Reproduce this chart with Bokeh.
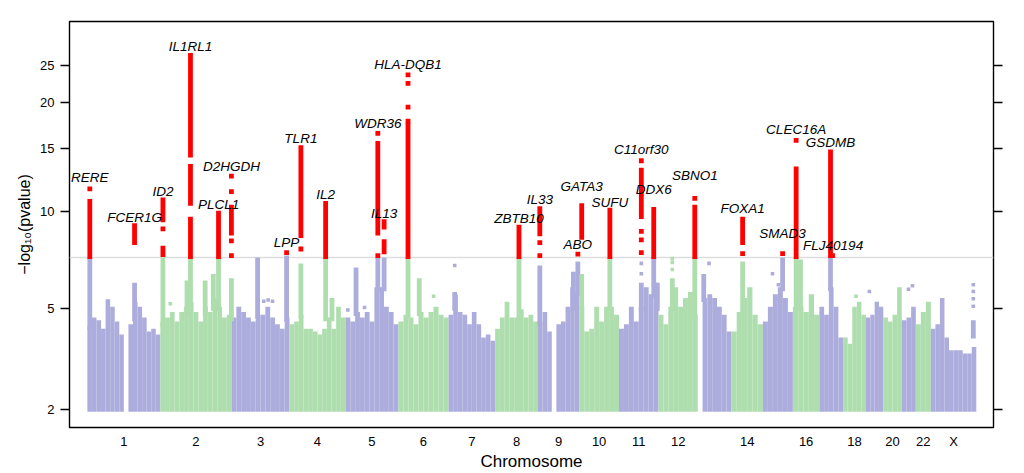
import numpy as np
from bokeh.plotting import figure
from bokeh.models import (FixedTicker, LinearAxis, Span, CustomJSTickFormatter,
                          Range1d)
from bokeh.embed import file_html
from bokeh.resources import INLINE
from bokeh.core.properties import value

# ---------------- data ----------------
chrom_names = ["1", "2", "3", "4", "5", "6", "7", "8", "9", "10", "11", "12",
               "13", "14", "15", "16", "17", "18", "19", "20", "21", "22", "X"]
chrom_len_mb = [249.3, 243.2, 198.0, 191.2, 180.9, 171.1, 159.1, 146.4, 141.2,
                135.5, 135.0, 133.9, 115.2, 107.3, 102.5, 90.4, 81.2, 78.1,
                59.1, 63.0, 48.1, 51.3, 155.3]
x_labels_shown = ["1", "2", "3", "4", "5", "6", "7", "8", "9", "10", "11", "12",
                  "14", "16", "18", "20", "22", "X"]

y_ticks = [2, 5, 10, 15, 20, 25]
threshold = 7.3
y_min, y_max = 1.625, 32.4
x_min, x_max = -61, 3095

# upper edge of the dense cloud of -log10(p), evenly spaced bins along each chromosome (0 = no SNPs)
bulk_top = [
    [4.3, 4.6, 4.5, 4.2, 5.3, 5.0, 4.45, 4.0, 0, 4.35, 5.2, 5.0, 4.6, 4.1, 4.2, 4.0],
    [4.45, 4.6, 4.8, 4.45, 4.8, 5.0, 5.2, 4.8, 4.45, 5.0, 4.8, 5.35, 5.0, 4.6, 4.7],
    [4.6, 5.0, 4.8, 4.6, 4.45, 4.7, 4.7, 5.0, 4.6, 4.35, 4.2, 4.6],
    [4.35, 4.45, 4.7, 4.2, 4.2, 4.1, 4.0, 4.2, 4.6, 4.2, 5.0, 4.6],
    [4.6, 4.45, 4.8, 4.6, 4.8, 4.45, 5.8, 5.8, 5.0, 4.8, 4.35],
    [4.45, 4.7, 4.6, 4.35, 4.8, 4.6, 4.8, 5.0, 4.7, 4.6],
    [4.7, 5.5, 4.8, 4.7, 4.35, 4.8, 4.35, 3.9, 4.0, 3.8],
    [4.2, 4.6, 5.2, 4.6, 4.6, 4.9, 4.6, 4.7, 4.45],
    [4.45, 4.8, 4.1, 0, 4.35, 4.45, 5.0, 5.8, 5.6],
    [5.0, 4.1, 4.2, 5.0, 4.45, 5.0, 5.0, 4.7],
    [4.2, 4.35, 5.0, 4.45, 5.0, 5.8, 5.5, 6.0],
    [4.7, 4.35, 5.0, 5.8, 5.0, 5.35, 5.6, 4.7],
    [0, 5.35, 5.5, 5.35, 5.0, 4.7, 4.1],
    [4.1, 4.8, 5.35, 5.8, 4.7, 4.35],
    [4.45, 5.0, 5.5, 5.8, 5.35, 4.8],
    [5.0, 5.0, 4.8, 5.5, 4.7],
    [5.0, 4.7, 5.8, 5.0, 3.9],
    [3.9, 3.7, 5.0, 5.2, 4.7],
    [4.6, 4.7, 5.2, 5.0],
    [4.6, 4.45, 4.7, 5.8],
    [4.5, 4.6, 5.0],
    [4.35, 4.8, 5.2],
    [4.2, 4.35, 5.35, 3.9, 3.5, 3.5, 3.5, 3.4, 3.4, 3.6],
]

# columns of non-significant SNPs rising above the cloud
col_chr = ["1", "1", "2", "2", "2", "2", "2", "2", "2", "3", "3", "4", "4", "4",
           "5", "5", "5", "6", "6", "7", "8", "9", "9", "9", "10", "10", "11",
           "11", "11", "12", "12", "13", "14", "15", "16", "16", "17", "X"]
col_pos = [8.4, 161.2, 8.8, 91, 102.9, 153, 181, 198.7, 242.7, 89, 188.0, 38.8,
           123.4, 145, 36, 110.4, 131.9, 32.6, 71, 21, 81.4, 6.2, 121, 136.1,
           8.1, 104.3, 76.2, 118.6, 131, 47, 123.8, 20.5, 38.1, 67.4, 11.1, 26,
           38.1, 145]
col_lo = [4.3, 4.6, 4.4, 4.8, 5.0, 4.8, 5.0, 5.0, 4.6, 4.7, 4.6, 4.7, 4.6, 4.6,
          4.8, 5.8, 5.8, 4.7, 4.8, 5.0, 4.6, 4.45, 5.0, 5.6, 5.0, 5.0, 5.0, 5.5,
          5.0, 5.0, 4.7, 5.35, 4.8, 5.8, 5.0, 5.0, 5.8, 4.0]
col_hi = [7.2, 6.0, 7.2, 6.1, 7.2, 6.1, 6.4, 7.2, 6.2, 7.2, 7.3, 6.9, 7.2, 5.35,
          6.7, 7.2, 7.2, 7.2, 6.2, 5.6, 7.2, 6.8, 6.5, 7.0, 6.4, 7.2, 6.0, 7.2,
          6.0, 6.2, 7.2, 6.4, 7.0, 7.2, 7.2, 7.1, 7.2, 4.5]

# isolated non-significant SNPs
dot_chr = ["2", "3", "3", "3", "5", "5", "6", "7", "11", "11", "12", "12", "12",
           "13", "15", "15", "18", "19", "21", "21", "X", "X", "X", "X"]
dot_pos = [34, 110, 125, 140, 8, 65, 120, 21, 76.2, 76.2, 47, 47, 47, 38.6,
           32.8, 53, 44, 11.5, 23, 36.7, 145, 145, 145, 145]
dot_val = [5.2, 5.3, 5.35, 5.3, 4.95, 5.05, 5.5, 6.9, 6.5, 7.0, 6.7, 7.05, 7.25,
           7.0, 6.5, 6.0, 5.5, 5.7, 5.8, 5.95, 6.0, 5.7, 5.4, 5.1]

# genome-wide significant SNPs: runs and single points
red_seg_chr = ["1", "1", "2", "2", "2", "2", "2", "2", "2", "4", "4", "5", "5",
               "5", "6", "8", "9", "9", "10", "10", "11", "11", "11", "12",
               "14", "16", "17"]
red_seg_pos = [8.4, 161.2, 8.8, 8.8, 102.9, 102.9, 102.9, 198.7, 242.7, 38.8,
               123.4, 110.4, 131.9, 131.9, 32.6, 81.4, 6.2, 6.2, 8.1, 104.3,
               76.2, 76.2, 118.6, 123.8, 38.1, 11.1, 38.1]
red_seg_lo = [7.35, 8.1, 9.45, 7.45, 14.4, 10.56, 7.35, 7.35, 8.65, 8.5, 7.35,
              8.64, 9.0, 7.6, 7.35, 7.35, 9.6, 8.6, 8.4, 7.35, 11.27, 9.66,
              7.35, 7.35, 8.1, 7.35, 7.4]
red_seg_hi = [10.7, 9.1, 10.8, 7.8, 26.5, 13.4, 9.5, 9.9, 10.3, 15.1, 10.56,
              15.5, 9.35, 8.15, 17.4, 9.0, 10.2, 9.3, 10.4, 10.1, 13.1, 11.0,
              10.15, 10.3, 9.5, 13.2, 14.7]

red_dot_chr = ["1", "2", "2", "2", "2", "2", "3", "4", "5", "5", "6", "6", "6",
               "6", "9", "9", "9", "11", "11", "11", "11", "12", "14", "15",
               "16", "17"]
red_dot_pos = [8.4, 8.8, 242.7, 242.7, 242.7, 242.7, 188.0, 38.8, 110.4, 110.4,
               32.6, 32.6, 32.6, 32.6, 6.2, 6.2, 136.1, 76.2, 76.2, 76.2, 76.2,
               123.8, 38.1, 67.4, 11.1, 45.0]
red_dot_val = [11.6, 8.9, 12.6, 11.4, 8.2, 7.4, 7.55, 7.75, 16.5, 7.4, 23.6,
               22.4, 19.4, 17.8, 8.1, 7.4, 7.48, 13.9, 8.75, 8.25, 7.55, 10.9,
               7.5, 7.5, 15.8, 7.4]

gene_names = ["RERE", "FCER1G", "ID2", "IL1RL1", "PLCL1", "D2HGDH", "LPP",
              "TLR1", "IL2", "WDR36", "IL13", "HLA-DQB1", "ZBTB10", "IL33",
              "ABO", "GATA3", "SUFU", "C11orf30", "DDX6", "SBNO1", "FOXA1",
              "SMAD3", "CLEC16A", "GSDMB", "FLJ40194"]
gene_chr = ["1", "1", "2", "2", "2", "2", "3", "4", "4", "5", "5", "6", "8", "9",
            "9", "10", "10", "11", "11", "12", "14", "15", "16", "17", "17"]
gene_pos = [8.4, 161.2, 8.8, 102.9, 198.7, 242.7, 188.0, 38.8, 123.4, 110.4,
            131.9, 32.6, 81.4, 6.2, 136.1, 8.1, 104.3, 76.2, 118.6, 123.8, 38.1,
            67.4, 11.1, 38.1, 47.0]
gene_label_y = [12.45, 9.64, 11.39, 28.0, 10.5, 13.44, 8.12, 16.0, 11.2, 17.55,
                9.9, 25.15, 9.56, 10.84, 8.02, 11.82, 10.65, 14.96, 11.57,
                12.63, 10.19, 8.64, 16.92, 15.56, 7.93]

# ---------------- styling ----------------
PURPLE = "#ADADDD"
GREEN = "#AEDDAE"
RED = "#FF0000"
FONT = "Liberation Sans"
W, H = 1024, 473
BL, BR, BT, BB = 69, 31, 21, 44
FRAME_W, FRAME_H = W - BL - BR, H - BT - BB


def T(v):
    return np.log10(np.asarray(v, dtype=float) + 2.0)


starts = np.concatenate([[0.0], np.cumsum(chrom_len_mb)[:-1]])
idx = {c: i for i, c in enumerate(chrom_names)}


def gx(chrs, pos):
    return np.array([starts[idx[c]] + p for c, p in zip(chrs, pos)])


def ccol(c):
    return PURPLE if idx[c] % 2 == 0 else GREEN


px_per_mb = FRAME_W / (x_max - x_min)
px_per_t = FRAME_H / (T(y_max) - T(y_min))
pad = 2.0 / px_per_t          # half a point marker, in axis units
half_col = 2.4 / px_per_mb    # half width of a column of markers, in Mb

p = figure(width=W, height=H, output_backend="svg", toolbar_location=None,
           x_range=Range1d(x_min, x_max), y_range=Range1d(T(y_min), T(y_max)),
           min_border_left=BL, min_border_right=BR, min_border_top=BT,
           min_border_bottom=BB)
p.xgrid.grid_line_color = None
p.ygrid.grid_line_color = None
p.outline_line_color = "black"
p.outline_line_width = 1.4
p.background_fill_color = "white"
p.border_fill_color = "white"

# threshold line
p.add_layout(Span(location=float(T(threshold)), dimension="width",
                  line_color="#DDDDDD", line_width=1.5, level="underlay"))

# dense cloud
bx, bw, btop, bcol = [], [], [], []
for i, env in enumerate(bulk_top):
    n = len(env)
    w = chrom_len_mb[i] / n
    for j, v in enumerate(env):
        if v <= 0:
            continue
        bx.append(starts[i] + (j + 0.5) * w)
        bw.append(w)
        btop.append(float(T(v)) + pad)
        bcol.append(PURPLE if i % 2 == 0 else GREEN)
p.vbar(x=bx, width=bw, bottom=float(T(2)) - pad, top=btop,
       fill_color=bcol, line_color=None)

# columns below threshold
cx = gx(col_chr, col_pos)
p.quad(left=cx - half_col, right=cx + half_col,
       bottom=T(col_lo) - pad, top=T(col_hi) + pad,
       fill_color=[ccol(c) for c in col_chr], line_color=None)
p.scatter(gx(dot_chr, dot_pos), T(dot_val), marker="square", size=3.6,
          fill_color=[ccol(c) for c in dot_chr], line_color=None)

# significant points
rx = gx(red_seg_chr, red_seg_pos)
p.quad(left=rx - half_col, right=rx + half_col,
       bottom=T(red_seg_lo) - pad * 1.2, top=T(red_seg_hi) + pad * 1.2,
       fill_color=RED, line_color=None)
p.scatter(gx(red_dot_chr, red_dot_pos), T(red_dot_val), marker="square",
          size=4.8, fill_color=RED, line_color=None)

# gene labels
p.text(gx(gene_chr, gene_pos), T(gene_label_y), text=gene_names,
       text_font=value(FONT), text_font_style="italic", text_font_size="13.5px",
       text_align="center", text_baseline="middle", text_color="black")

# axes
centers = starts + np.array(chrom_len_mb) / 2.0
xt = [int(round(centers[idx[c]])) for c in x_labels_shown]
p.xaxis.ticker = FixedTicker(ticks=xt)
p.xaxis.major_label_overrides = {t: c for t, c in zip(xt, x_labels_shown)}
p.xaxis.axis_line_color = None
p.xaxis.major_tick_line_color = None
p.xaxis.major_tick_out = 0
p.xaxis.major_tick_in = 0
p.xaxis.minor_tick_line_color = None
p.xaxis.minor_tick_out = 0
p.xaxis.major_label_standoff = 6
p.xaxis.major_label_text_font = FONT
p.xaxis.major_label_text_font_size = "13px"
p.xaxis.major_label_text_color = "black"
p.xaxis.axis_label = "Chromosome"
p.xaxis.axis_label_text_font = FONT
p.xaxis.axis_label_text_font_style = "normal"
p.xaxis.axis_label_text_font_size = "17px"
p.xaxis.axis_label_standoff = 0
p.xaxis.axis_label_text_color = "black"

yt = [float(v) for v in T(y_ticks)]
fmt = CustomJSTickFormatter(code="return String(Math.round(Math.pow(10, tick) - 2));")
p.yaxis.ticker = FixedTicker(ticks=yt)
p.yaxis.formatter = fmt
p.yaxis.axis_line_color = None
p.yaxis.major_tick_out = 9
p.yaxis.major_tick_in = 0
p.yaxis.major_tick_line_width = 1.4
p.yaxis.major_tick_line_color = "black"
p.yaxis.minor_tick_line_color = None
p.yaxis.major_label_standoff = 6
p.yaxis.major_label_text_font = FONT
p.yaxis.major_label_text_font_size = "13px"
p.yaxis.major_label_text_color = "black"
p.yaxis.axis_label = "\u2212log\u2081\u2080(pvalue)"
p.yaxis.axis_label_text_font = FONT
p.yaxis.axis_label_text_font_style = "normal"
p.yaxis.axis_label_text_font_size = "16px"
p.yaxis.axis_label_standoff = 4
p.yaxis.axis_label_text_color = "black"

right = LinearAxis(ticker=FixedTicker(ticks=yt), axis_line_color=None,
                   major_tick_out=9, major_tick_in=0, major_tick_line_width=1.4,
                   minor_tick_line_color=None,
                   formatter=CustomJSTickFormatter(code="return '';"))
p.add_layout(right, "right")

open("out.html", "w").write(file_html(p, INLINE))
